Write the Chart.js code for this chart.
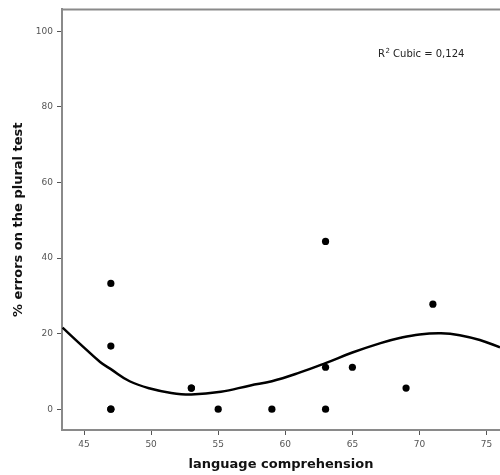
<!DOCTYPE html>
<html>
<head>
<meta charset="utf-8">
<script src="https://cdn.jsdelivr.net/npm/chart.js@4.4.0/dist/chart.umd.min.js"></script>
<style>
    body { margin: 0; background: #fff; }
    canvas { display: block; }
</style>
</head>
<body>
<canvas id="scatterChart" width="500" height="475"></canvas>
<script>
// observed values (language comprehension vs % errors)
const comprehension = [47, 47, 47, 47, 53, 53, 55, 59, 63, 63, 63, 65, 69, 71];
const pluralErrors  = [33.3, 16.7, 0, 0, 5.6, 5.6, 0, 0, 44.4, 11.1, 0, 11.1, 5.6, 27.8];

// cubic fit line
const fitX = [43.4, 44.7, 46.2, 47, 48.4, 50, 51.5, 53, 55.2, 57.4, 59, 61, 63, 65, 67.1, 68.6, 70, 71.6, 73, 74.5, 76];
const fitY = [21.6, 17.3, 12.5, 10.6, 7.4, 5.4, 4.3, 3.9, 4.6, 6.3, 7.4, 9.6, 12.2, 15.0, 17.5, 18.9, 19.8, 20.1, 19.6, 18.3, 16.4];

const xTicks = [45, 50, 55, 60, 65, 70, 75];
const yTicks = [0, 20, 40, 60, 80, 100];

const axisGray = '#8a8a8a';
const tickFont = { family: 'DejaVu Sans', size: 9 };
const titleFont = { family: 'DejaVu Sans', size: 13, weight: 'bold' };

// top frame line + R² label
const framePlugin = {
    id: 'frame',
    afterDraw(chart) {
        const ctx = chart.ctx;
        const area = chart.chartArea;
        ctx.save();
        ctx.strokeStyle = axisGray;
        ctx.lineWidth = 2;
        ctx.beginPath();
        ctx.moveTo(area.left - 1, area.top);
        ctx.lineTo(area.right, area.top);
        ctx.stroke();

        ctx.fillStyle = '#222';
        ctx.textBaseline = 'alphabetic';
        ctx.font = '10px "DejaVu Sans"';
        let x = 378;
        const y = 57;
        ctx.fillText('R', x, y);
        x += ctx.measureText('R').width;
        ctx.font = '7px "DejaVu Sans"';
        ctx.fillText('2', x + 0.5, y - 4);
        x += ctx.measureText('2').width + 0.5;
        ctx.font = '10px "DejaVu Sans"';
        ctx.fillText(' Cubic = 0,124', x, y);
        ctx.restore();
    }
};

const ctx = document.getElementById('scatterChart').getContext('2d');
const scatterChart = new Chart(ctx, {
    type: 'scatter',
    data: {
        datasets: [
            {
                label: 'Cubic',
                data: fitX.map((x, i) => ({ x: x, y: fitY[i] })),
                showLine: true,
                borderColor: '#000',
                borderWidth: 2.5,
                pointRadius: 0,
                tension: 0.4,
                fill: false
            },
            {
                label: 'observed',
                data: comprehension.map((x, i) => ({ x: x, y: pluralErrors[i] })),
                backgroundColor: '#000',
                borderColor: '#000',
                pointRadius: 3.6,
                borderWidth: 0
            }
        ]
    },
    options: {
        responsive: false,
        animation: false,
        layout: { autoPadding: false, padding: { top: 8, left: 0, right: 0, bottom: 0 } },
        plugins: {
            legend: { display: false },
            tooltip: { enabled: false }
        },
        scales: {
            x: {
                type: 'linear',
                min: 43.36,
                max: 76.0,
                afterBuildTicks: scale => { scale.ticks = xTicks.map(v => ({ value: v })); },
                afterFit: scale => {
                    scale.height = 45;
                    scale.paddingLeft = 0;
                    scale.paddingRight = 0;
                },
                ticks: { color: '#555', font: tickFont, padding: 4, maxRotation: 0 },
                grid: { drawOnChartArea: false, drawTicks: true, tickLength: 5, color: '#555', lineWidth: 1 },
                border: { color: axisGray, width: 2 },
                title: {
                    display: true,
                    text: 'language comprehension',
                    color: '#111',
                    font: titleFont,
                    padding: { top: 0, bottom: 3 }
                }
            },
            y: {
                type: 'linear',
                min: -5.5,
                max: 105.8,
                afterBuildTicks: scale => { scale.ticks = yTicks.map(v => ({ value: v })); },
                afterFit: scale => { scale.width = 62; },
                ticks: { color: '#555', font: tickFont, padding: 4 },
                grid: { drawOnChartArea: false, drawTicks: true, tickLength: 5, color: '#555', lineWidth: 1 },
                border: { color: axisGray, width: 2 },
                title: {
                    display: true,
                    text: '% errors on the plural test',
                    color: '#111',
                    font: titleFont,
                    padding: { top: 11, bottom: 0 }
                }
            }
        }
    },
    plugins: [framePlugin]
});
</script>
</body>
</html>
